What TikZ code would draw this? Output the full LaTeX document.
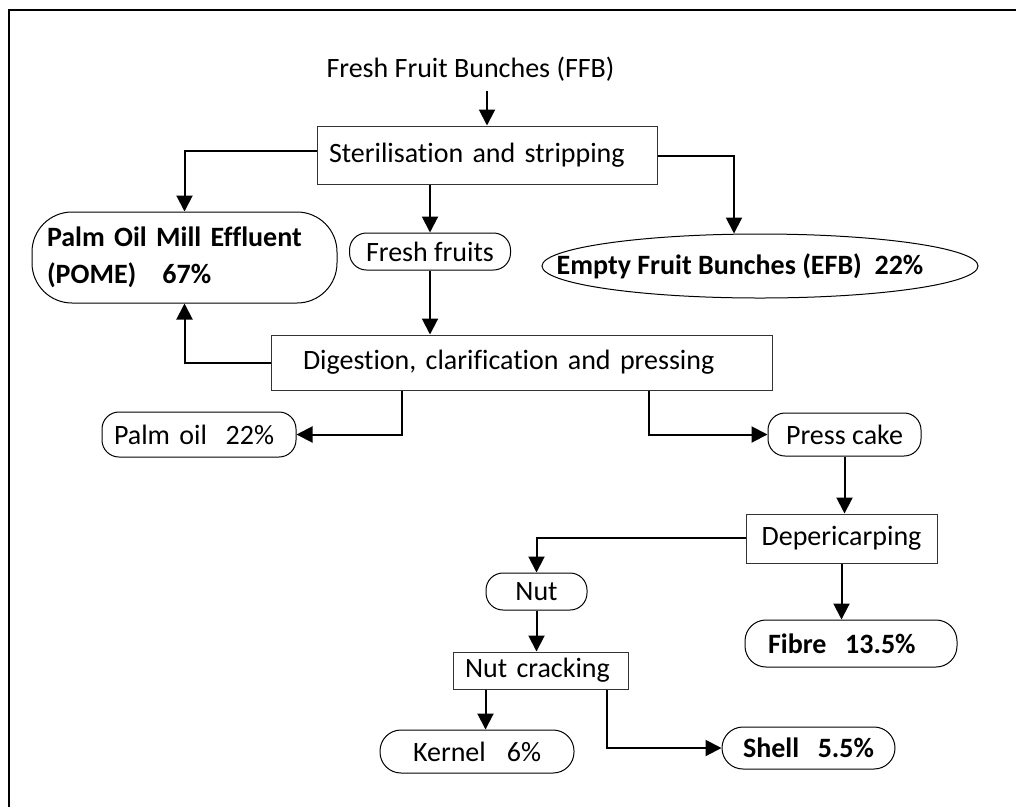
\documentclass[tikz,border=0pt]{standalone}
\usepackage{fontspec}
\setmainfont{Carlito}[Ligatures={NoCommon}]
\usetikzlibrary{arrows.meta, shapes.geometric}

\begin{document}
\begin{tikzpicture}[x=1pt, y=-1pt,
		every node/.style={font=\fontsize{28}{37}\selectfont, inner sep=0pt},
		stepbox/.style={shape=rectangle, draw=black!80, line width=1pt},
		pill/.style={shape=rectangle, draw=black, line width=1pt, rounded corners=17pt},
		oval/.style={shape=rectangle, draw=black, line width=1pt, rounded corners=21pt},
		flow/.style={-{Triangle[length=16pt,width=16pt]}, line width=2pt, black}]
			\useasboundingbox (0,0) rectangle (1016,807);
			\draw[line width=1.5pt] (1016,10) -- (9,10) -- (9,807);
			
			\node[anchor=base] (A) at (470.5,77) {Fresh Fruit Bunches (FFB)};
			\node[stepbox, text width=316pt, inner xsep=12pt, minimum height=58pt, align=left] (B) at (487,155) {Sterilisation and stripping};
			\node[oval, rounded corners=40pt, text width=275pt, inner xsep=15pt, minimum height=91pt, align=left, font=\fontsize{28}{37}\selectfont\bfseries] (C) at (184.5,257.5) {Palm Oil Mill Effluent\\(POME)\hspace{26pt}67\%};
			\node[shape=ellipse, draw=black, line width=1pt, minimum width=436pt, minimum height=64pt] (D) at (760,266) {};
			\node[font=\fontsize{28}{37}\selectfont\bfseries] (Dt) at ([xshift=-20pt]D.center) {Empty Fruit Bunches (EFB)~~22\%};
			\node[pill, minimum width=161pt, minimum height=37pt] (E) at (430,251.5) {Fresh fruits};
			\node[stepbox, text width=437pt, inner xsep=32pt, minimum height=55pt, align=left] (G) at (521.5,362.5) {Digestion, clarification and pressing};
			\node[pill, text width=170pt, inner xsep=12pt, minimum height=45pt, align=left] (F) at (199,434.5) {Palm oil~~22\%};
			\node[pill, minimum width=153pt, minimum height=43pt] (H) at (844.5,434.5) {Press cake};
			\node[stepbox, minimum width=191pt, minimum height=49pt] (I) at (841.5,538.5) {Depericarping};
			\node[pill, minimum width=101pt, minimum height=37pt] (J) at (536.5,591.5) {Nut};
			\node[stepbox, text width=151pt, inner xsep=12pt, minimum height=37pt, align=left] (K) at (540.5,670.5) {Nut cracking};
			\node[oval, text width=160pt, inner xsep=17pt, minimum height=43pt, align=left] (L) at (477,751.5) {\hspace{16pt}Kernel\hspace{21pt}6\%};
			\node[oval, text width=131pt, inner xsep=21pt, minimum height=42pt, align=left, font=\fontsize{28}{37}\selectfont\bfseries] (M) at (808.5,748) {Shell~~5.5\%};
			\node[oval, text width=166pt, inner xsep=23pt, minimum height=47pt, align=left, font=\fontsize{28}{37}\selectfont\bfseries] (N) at (851,643.5) {Fibre~~13.5\%};
			
			\draw[flow] ([yshift=-10pt]A.south -| B.north) -- (B.north);
			\draw[flow] ([yshift=4pt]B.west) -| (C.north);
			\draw[flow] ([yshift=-1pt]B.east) -| ([xshift=-26pt]D.north);
			\draw[flow] (E.north |- B.south) -- (E.north);
			\draw[flow] (E.south) -- (E.south |- G.north);
			\draw[flow] (G.west) -| (C.south);
			\draw[flow] ([xshift=-120pt]G.south) |- (F.east);
			\draw[flow] ([xshift=127pt]G.south) |- (H.west);
			\draw[flow] (H.south) -- (H.south |- I.north);
			\draw[flow] ([yshift=1pt]I.west) -| (J.north);
			\draw[flow] (I.south) -- (I.south |- N.north);
			\draw[flow] (J.south) -- (J.south |- K.north);
			\draw[flow] ([xshift=-55pt]K.south) -- ([xshift=-55pt]K.south |- L.north);
			\draw[flow] ([xshift=66pt]K.south) |- (M.west);
			\end{tikzpicture}
\end{document}
